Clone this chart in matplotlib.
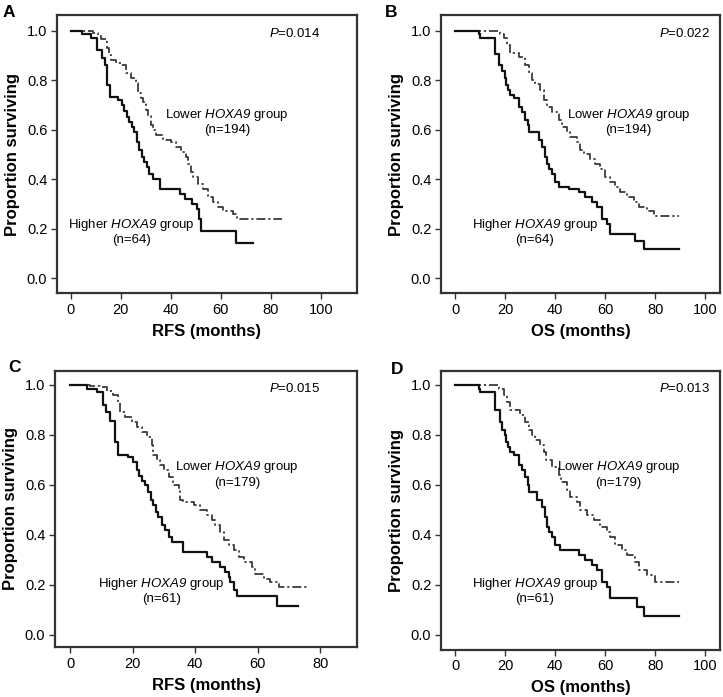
import matplotlib
matplotlib.use("Agg")
import matplotlib.pyplot as plt

plt.rcParams['font.family'] = 'Liberation Sans'
plt.rcParams['mathtext.fontset'] = 'custom'
# math text is only used for the italic words, so make all of it italic (digits too)
plt.rcParams['mathtext.rm'] = 'Liberation Sans:italic'
plt.rcParams['mathtext.it'] = 'Liberation Sans:italic'

# Kaplan-Meier step data (time in months, proportion surviving)
# Panel A: RFS, n=64 / n=194
a_hi_t = [0, 4.5, 8, 10.4, 12.5, 13.8, 14.7, 15.7, 19.1, 20.4, 21.3, 22.4, 23.4, 24.4, 25.3,
          26.4, 27.5, 28.4, 29.3, 30.4, 31.5, 32.8, 35.7, 43.7, 45.7, 48.4, 50.4, 51.3, 52.1, 66, 73]
a_hi_s = [1.0, 0.985, 0.97, 0.922, 0.888, 0.861, 0.78, 0.733, 0.72, 0.70, 0.675, 0.65, 0.63, 0.61, 0.59,
          0.55, 0.52, 0.49, 0.47, 0.45, 0.42, 0.40, 0.36, 0.34, 0.32, 0.30, 0.28, 0.24, 0.19, 0.141, 0.141]
a_lo_t = [0, 9, 11, 12, 14.5, 15.5, 16, 18, 20, 22, 24, 26, 27, 28, 29, 30, 31, 32, 33, 34, 37, 40, 42,
          44, 46, 47, 48, 49, 51, 53, 55, 57, 59, 61, 65, 66.4, 84.5]
a_lo_s = [1.0, 0.99, 0.98, 0.965, 0.93, 0.90, 0.88, 0.87, 0.86, 0.83, 0.81, 0.79, 0.75, 0.73, 0.71, 0.68,
          0.655, 0.62, 0.60, 0.58, 0.56, 0.55, 0.53, 0.51, 0.49, 0.46, 0.43, 0.41, 0.38, 0.36, 0.33, 0.31,
          0.29, 0.27, 0.26, 0.24, 0.24]

# Panel B: OS, n=64 / n=194
b_hi_t = [0, 9.3, 10, 16, 17.6, 18.7, 19.7, 20.3, 21, 22, 23.3, 25.3, 26.7, 28, 29, 29.5, 33.3, 34.7,
          35.7, 36.7, 37.6, 38.7, 40, 41.3, 45.3, 49.3, 52, 54.7, 56.7, 58.7, 60.7, 62, 72, 75.3, 89.3]
b_hi_s = [1.0, 0.985, 0.97, 0.905, 0.86, 0.835, 0.81, 0.78, 0.76, 0.74, 0.73, 0.69, 0.67, 0.64, 0.62,
          0.592, 0.56, 0.53, 0.49, 0.46, 0.44, 0.42, 0.39, 0.37, 0.36, 0.35, 0.33, 0.31, 0.29, 0.24,
          0.22, 0.18, 0.15, 0.12, 0.12]
b_lo_t = [0, 18, 19.3, 20.7, 22, 25.3, 28, 29.3, 30.7, 32, 34, 35.3, 36.7, 38.7, 41.3, 42.7, 44.7, 46,
          48.7, 50, 51.3, 54, 56, 58, 60, 62, 64, 66, 68.7, 71.3, 73.3, 76.7, 79.3, 89.3]
b_lo_s = [1.0, 0.985, 0.97, 0.94, 0.91, 0.895, 0.86, 0.83, 0.80, 0.785, 0.76, 0.72, 0.69, 0.67, 0.64,
          0.61, 0.59, 0.57, 0.55, 0.52, 0.50, 0.48, 0.46, 0.44, 0.41, 0.39, 0.37, 0.35, 0.33, 0.31, 0.29,
          0.27, 0.25, 0.25]

# Panel C: RFS, n=61 / n=179
c_hi_t = [0, 5.3, 8.5, 10.7, 11.5, 12.8, 14.4, 15.5, 18.7, 20.3, 21.3, 22.2, 22.9, 24, 25, 25.8, 26.7,
          27.4, 28.3, 29.3, 30.4, 31.5, 32.5, 36, 43.7, 45.3, 48, 49.6, 50.7, 51.2, 52.3, 53.3, 66.1, 73]
c_hi_s = [1.0, 0.985, 0.97, 0.92, 0.89, 0.855, 0.77, 0.72, 0.71, 0.69, 0.66, 0.635, 0.615, 0.60, 0.57,
          0.54, 0.52, 0.49, 0.47, 0.44, 0.42, 0.39, 0.37, 0.33, 0.31, 0.29, 0.27, 0.25, 0.23, 0.21,
          0.18, 0.155, 0.115, 0.115]
c_lo_t = [0, 6.4, 9.6, 11.7, 13.9, 15.2, 16, 17.6, 19.7, 21.3, 22.9, 24.5, 26.1, 26.5, 27.7, 28.8, 29.9,
          31.5, 33, 34.7, 35.2, 36, 39.5, 41.6, 43.7, 45.3, 46.4, 48, 49.3, 50.7, 52.3, 53.9, 55.5, 58.1,
          59.2, 61.9, 64, 66.7, 76.3]
c_lo_s = [1.0, 0.995, 0.99, 0.975, 0.96, 0.93, 0.89, 0.87, 0.85, 0.83, 0.81, 0.79, 0.76, 0.72, 0.70,
          0.68, 0.66, 0.63, 0.60, 0.58, 0.54, 0.53, 0.52, 0.50, 0.48, 0.46, 0.44, 0.41, 0.38, 0.36, 0.34,
          0.31, 0.29, 0.27, 0.245, 0.225, 0.21, 0.19, 0.19]

# Panel D: OS, n=61 / n=179
d_hi_t = [0, 9.3, 10, 16, 18, 18.7, 19.7, 20.4, 21, 22, 23.3, 25.3, 26.7, 28, 28.9, 29.5, 32.7, 34.7,
          35.7, 36.7, 37.6, 38.7, 40, 42, 49.3, 52, 54.7, 56.7, 58.7, 60.7, 62, 72.7, 75.3, 89.3]
d_hi_s = [1.0, 0.985, 0.97, 0.90, 0.85, 0.82, 0.80, 0.77, 0.75, 0.73, 0.72, 0.68, 0.66, 0.63, 0.60,
          0.57, 0.54, 0.51, 0.47, 0.43, 0.41, 0.39, 0.36, 0.34, 0.32, 0.30, 0.28, 0.26, 0.21, 0.19,
          0.145, 0.11, 0.075, 0.075]
d_lo_t = [0, 17.3, 19.3, 20.7, 22, 26, 28, 29.3, 30.7, 32, 34, 35.3, 36.4, 38.7, 41.3, 42.4, 44.7, 46,
          48.7, 50, 52.7, 55.3, 58, 60.7, 62, 64, 66.7, 68.7, 72, 73.3, 76.7, 79.7, 89.3]
d_lo_s = [1.0, 0.985, 0.96, 0.93, 0.90, 0.88, 0.85, 0.82, 0.80, 0.78, 0.76, 0.73, 0.70, 0.67, 0.64,
          0.61, 0.58, 0.55, 0.53, 0.50, 0.48, 0.46, 0.43, 0.41, 0.39, 0.36, 0.34, 0.32, 0.29, 0.26, 0.24,
          0.21, 0.21]

letters = ['A', 'B', 'C', 'D']
xlabels = ['RFS (months)', 'OS (months)', 'RFS (months)', 'OS (months)']
p_values = ['0.014', '0.022', '0.015', '0.013']
n_lower = ['194', '194', '179', '179']
n_higher = ['64', '64', '61', '61']
xtick_sets = [[0, 20, 40, 60, 80, 100], [0, 20, 40, 60, 80, 100], [0, 20, 40, 60, 80],
              [0, 20, 40, 60, 80, 100]]
yticks = [0.0, 0.2, 0.4, 0.6, 0.8, 1.0]

curves = [(a_hi_t, a_hi_s, a_lo_t, a_lo_s), (b_hi_t, b_hi_s, b_lo_t, b_lo_s),
          (c_hi_t, c_hi_s, c_lo_t, c_lo_s), (d_hi_t, d_hi_s, d_lo_t, d_lo_s)]

rects = [[0.0788, 0.5796, 0.415, 0.3989], [0.610, 0.5796, 0.386, 0.3989],
         [0.0761, 0.0717, 0.4177, 0.3964], [0.610, 0.0679, 0.386, 0.4003]]
xlims = [(-5.5, 114.5), (-5.7, 105.9), (-4.8, 91.8), (-5.7, 105.9)]
ylims = [(-0.059, 1.063), (-0.059, 1.063), (-0.049, 1.057), (-0.06, 1.057)]
lower_pos = [(62.5, 0.66, 0.60), (69.3, 0.66, 0.60), (53.4, 0.67, 0.607), (65.3, 0.67, 0.607)]
higher_pos = [(24.2, 0.215, 0.155), (31.8, 0.215, 0.155), (29.3, 0.203, 0.144), (31.8, 0.203, 0.144)]
p_pos = [(100, 0.99), (102, 0.99), (80, 0.984), (102, 0.984)]
letter_pos = [(0.004, 0.982), (0.533, 0.982), (0.012, 0.473), (0.540, 0.470)]

fig = plt.figure(figsize=(7.23, 6.97), dpi=100)

for i in range(4):
    ax = fig.add_axes(rects[i])
    hi_t, hi_s, lo_t, lo_s = curves[i]
    ax.step(lo_t, lo_s, where='post', color='#3a3a3a', lw=1.3,
            linestyle=(0, (5, 1.6, 1.2, 1.6)))
    ax.step(hi_t, hi_s, where='post', color='#111111', lw=1.6)

    ax.set_xlim(*xlims[i])
    ax.set_ylim(*ylims[i])
    ax.set_xticks(xtick_sets[i])
    ax.set_yticks(yticks)
    ax.set_yticklabels(['%.1f' % v for v in yticks])
    ax.tick_params(direction='out', length=4, width=1.0, labelsize=10.5, color='#333333', pad=3)
    for sp in ax.spines.values():
        sp.set_linewidth(1.6)
        sp.set_color('#333333')

    ax.set_xlabel(xlabels[i], fontsize=12, fontweight='bold', labelpad=5)
    ax.set_ylabel('Proportion surviving', fontsize=12, fontweight='bold', labelpad=5)

    lx, ly1, ly2 = lower_pos[i]
    ax.text(lx, ly1, r'Lower $HOXA9$ group', ha='center', va='center', fontsize=9.5)
    ax.text(lx, ly2, '(n=%s)' % n_lower[i], ha='center', va='center', fontsize=9.5)
    hx, hy1, hy2 = higher_pos[i]
    ax.text(hx, hy1, r'Higher $HOXA9$ group', ha='center', va='center', fontsize=9.5)
    ax.text(hx, hy2, '(n=%s)' % n_higher[i], ha='center', va='center', fontsize=9.5)
    px, py = p_pos[i]
    ax.text(px, py, r'$P$=' + p_values[i], ha='right', va='center', fontsize=9.5)

    fig.text(letter_pos[i][0], letter_pos[i][1], letters[i], fontsize=12.5, fontweight='bold',
             ha='left', va='center')

fig.savefig('out.png', dpi=100)
